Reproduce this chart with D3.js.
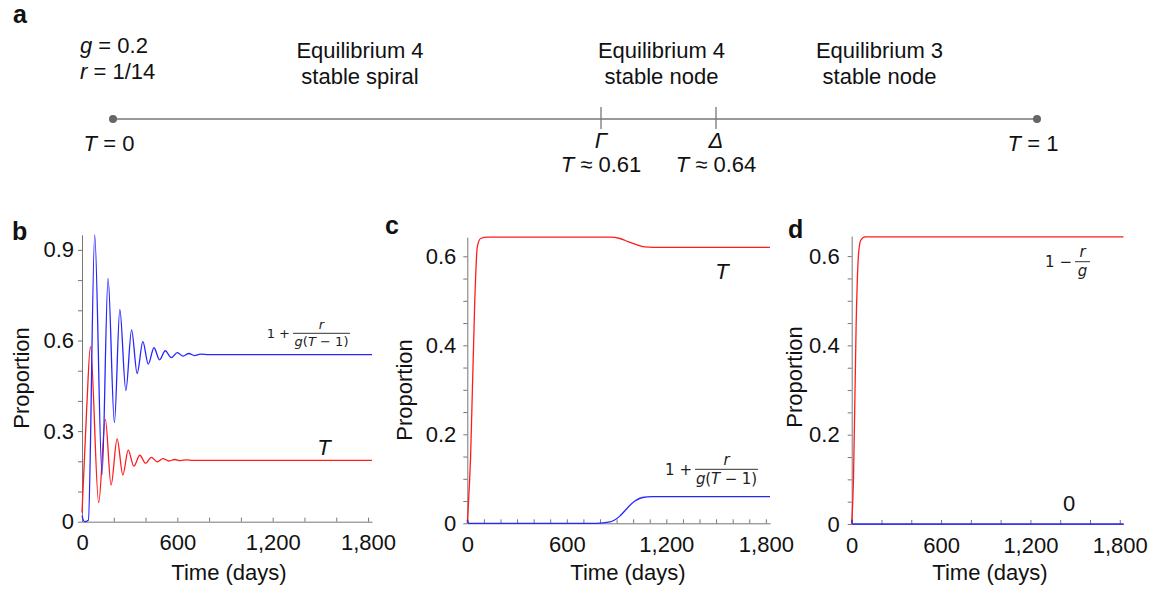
<!DOCTYPE html>
<html>
<head>
<meta charset="utf-8">
<script src="https://cdn.jsdelivr.net/npm/d3@7"></script>
<style>
  body { margin: 0; background: #fff; }
  text { font-family: "Liberation Sans", Arial, sans-serif; fill: #111; }
  .axis path, .axis line { stroke: #777; }
  .axis text { font-size: 22px; fill: #111; font-family: "Liberation Sans", Arial, sans-serif; }
  .frac text { font-family: "DejaVu Sans", sans-serif; fill: #222; }
</style>
</head>
<body>
<svg id="vis" width="1157" height="589"></svg>
<script>
// ---- panel a : bifurcation line ----
var paramLines = [["g", " = 0.2"], ["r", " = 1/14"]];
var thresholds = [
  { T: 0.61, sym: "\u0393", lab: "0.61" },
  { T: 0.64, sym: "\u0394", lab: "0.64" }
];
var regions = [
  { from: 0, to: 0.61, lines: ["Equilibrium 4", "stable spiral"] },
  { from: 0.61, to: 0.64, lines: ["Equilibrium 4", "stable node"] },
  { from: 0.64, to: 1, lines: ["Equilibrium 3", "stable node"] }
];

// ---- panel b : T = 0.2 (stable spiral) ----
var bRedDays = [0, 30, 53, 105, 147, 183, 221, 257, 291, 326, 364, 400, 436, 474, 509, 547, 583, 620, 655, 700, 800, 1825];
var bRedVals = [0.03, 0.38, 0.58, 0.063, 0.339, 0.121, 0.274, 0.155, 0.237, 0.184, 0.220, 0.193, 0.213, 0.198, 0.209, 0.201, 0.206, 0.202, 0.205, 0.203, 0.203, 0.203];
var bBlueDays = [0, 15, 40, 80, 126, 164, 204, 238, 276, 312, 347, 383, 417, 453, 488, 524, 562, 600, 636, 672, 708, 745, 800, 1825];
var bBlueVals = [0.02, 0.0, 0.005, 0.95, 0.155, 0.806, 0.328, 0.703, 0.434, 0.635, 0.491, 0.596, 0.522, 0.576, 0.536, 0.566, 0.543, 0.560, 0.548, 0.557, 0.550, 0.555, 0.553, 0.553];

// ---- panel c : stable node, equilibrium 4 ----
var cRedDays = [0, 20, 45, 60, 80, 120, 860, 920, 970, 1020, 1070, 1120, 1825];
var cRedVals = [0, 0.15, 0.5, 0.62, 0.64, 0.643, 0.643, 0.640, 0.633, 0.626, 0.621, 0.620, 0.620];
var cBlueDays = [0, 10, 780, 860, 916, 964, 1010, 1056, 1116, 1825];
var cBlueVals = [0.008, 0, 0, 0.003, 0.015, 0.034, 0.05, 0.058, 0.06, 0.06];

// ---- panel d : equilibrium 3 ----
var dRedDays = [0, 12, 30, 45, 60, 90, 1825];
var dRedVals = [0, 0.1, 0.45, 0.6, 0.635, 0.643, 0.643];
var dBlueDays = [0, 5, 1825];
var dBlueVals = [0.01, 0, 0];

var RED = "#ff1c1c", BLUE = "#2626ff";

var svg = d3.select("#vis");

// panel letters
[["a", 13, 23], ["b", 12, 240], ["c", 385, 234], ["d", 788, 238]].forEach(function (p) {
  svg.append("text").attr("x", p[1]).attr("y", p[2])
    .style("font-size", "25px").style("font-weight", "bold").text(p[0]);
});

// ---------- panel a ----------
var tx = d3.scaleLinear().domain([0, 0.61, 0.64, 1]).range([113, 601, 716, 1037]);
var lineY = 119;
var ga = svg.append("g");

ga.append("line").attr("x1", tx(0)).attr("x2", tx(1)).attr("y1", lineY).attr("y2", lineY)
  .attr("stroke", "#777").attr("stroke-width", 1.6);
ga.selectAll("circle.end").data([0, 1]).enter().append("circle")
  .attr("cx", function (d) { return tx(d); }).attr("cy", lineY).attr("r", 4).attr("fill", "#666");
ga.selectAll("line.thr").data(thresholds).enter().append("line")
  .attr("x1", function (d) { return tx(d.T); }).attr("x2", function (d) { return tx(d.T); })
  .attr("y1", lineY - 12).attr("y2", lineY + 10).attr("stroke", "#777").attr("stroke-width", 1.3);

paramLines.forEach(function (p, i) {
  var t = ga.append("text").attr("x", 80).attr("y", 53 + i * 26).style("font-size", "22px");
  t.append("tspan").style("font-style", "italic").text(p[0]);
  t.append("tspan").text(p[1]);
});

regions.forEach(function (r) {
  var cx = (tx(r.from) + tx(r.to)) / 2 + 3;
  r.lines.forEach(function (l, i) {
    ga.append("text").attr("x", cx).attr("y", 58 + i * 26).attr("text-anchor", "middle")
      .style("font-size", "22px").text(l);
  });
});

thresholds.forEach(function (d) {
  ga.append("text").attr("x", tx(d.T)).attr("y", 148).attr("text-anchor", "middle")
    .style("font-size", "22px").style("font-style", "italic").text(d.sym);
  var t = ga.append("text").attr("x", tx(d.T)).attr("y", 172).attr("text-anchor", "middle").style("font-size", "22px");
  t.append("tspan").style("font-style", "italic").text("T");
  t.append("tspan").text(" \u2248 " + d.lab);
});
[[0, "0", -4], [1, "1", -4]].forEach(function (e) {
  var t = ga.append("text").attr("x", tx(e[0]) + e[2]).attr("y", 151).attr("text-anchor", "middle").style("font-size", "22px");
  t.append("tspan").style("font-style", "italic").text("T");
  t.append("tspan").text(" = " + e[1]);
});

// ---------- time-course panels ----------
function zip(days, vals) { return days.map(function (d, i) { return [d, vals[i]]; }); }

// f: {x1, x2, y, size, sign, num, den, denW}
function fraction(g, f) {
  var fg = g.append("g").attr("class", "frac");
  var mid = (f.x1 + f.x2) / 2;
  fg.append("line").attr("x1", f.x1).attr("x2", f.x2).attr("y1", f.y).attr("y2", f.y)
    .attr("stroke", "#333").attr("stroke-width", 1);
  fg.append("text").attr("x", f.x1 - 3).attr("y", f.y + f.size * 0.36).attr("text-anchor", "end")
    .style("font-size", f.size + "px").text(f.sign);
  fg.append("text").attr("x", mid).attr("y", f.y - f.size * 0.3).attr("text-anchor", "middle")
    .style("font-size", f.size + "px").style("font-style", "italic").text(f.num);
  var dt = fg.append("text").attr("x", mid).attr("y", f.y + f.size * 0.98).attr("text-anchor", "middle")
    .style("font-size", f.size + "px");
  if (f.denW) dt.attr("textLength", f.denW).attr("lengthAdjust", "spacing");
  f.den.forEach(function (s) { dt.append("tspan").style("font-style", s[1] ? "italic" : "normal").text(s[0]); });
}

var panels = [
  { x0: 82, x1: 372, y0: 521.7, yTop: 0.95, yPx: 302, yTicks: d3.range(10).map(function (i) { return i / 10; }),
    yLab: [0, 0.3, 0.6, 0.9], xStep: 200, pad: 4, red: zip(bRedDays, bRedVals), blue: zip(bBlueDays, bBlueVals),
    propX: 29, propY: 378, timeX: 229 },
  { x0: 467.3, x1: 770, y0: 523.3, yTop: 0.643, yPx: 445, yTicks: d3.range(13).map(function (i) { return i / 20; }),
    yLab: [0, 0.2, 0.4, 0.6], xStep: 100, pad: 7, red: zip(cRedDays, cRedVals), blue: zip(cBlueDays, cBlueVals),
    propX: 412, propY: 390, timeX: 628 },
  { x0: 851.7, x1: 1123.5, y0: 524, yTop: 0.645, yPx: 446.5, yTicks: d3.range(13).map(function (i) { return i / 20; }),
    yLab: [0, 0.2, 0.4, 0.6], xStep: 200, pad: 8, red: zip(dRedDays, dRedVals), blue: zip(dBlueDays, dBlueVals),
    propX: 802, propY: 377, timeX: 990 }
];

var den = [["g", true], ["(", false], ["T", true], [" \u2212 ", false], ["1)", false]];

panels.forEach(function (p, k) {
  var x = d3.scaleLinear().domain([0, 1825]).range([p.x0, p.x1]);
  var y = d3.scaleLinear().domain([0, p.yTop]).range([p.y0, p.y0 - p.yTop * p.yPx]);
  var g = svg.append("g");

  g.append("g").attr("class", "axis").attr("transform", "translate(0," + p.y0 + ")")
    .call(d3.axisBottom(x).tickValues(d3.range(0, 1801, p.xStep)).tickSizeInner(-4).tickSizeOuter(0).tickPadding(13)
      .tickFormat(function (d) { return d % 600 === 0 ? d3.format(",")(d) : ""; }));
  g.append("g").attr("class", "axis").attr("transform", "translate(" + p.x0 + ",0)")
    .call(d3.axisLeft(y).tickValues(p.yTicks).tickSizeInner(4).tickSizeOuter(0).tickPadding(p.pad)
      .tickFormat(function (d) {
        var lab = p.yLab.some(function (v) { return Math.abs(v - d) < 1e-6; });
        return lab ? (d === 0 ? "0" : d3.format(".1f")(d)) : "";
      }));

  var line = d3.line().x(function (d) { return x(d[0]); }).y(function (d) { return y(d[1]); })
    .curve(d3.curveMonotoneX);
  g.append("path").datum(p.red).attr("d", line).attr("fill", "none").attr("stroke", RED).attr("stroke-width", 1.3);
  g.append("path").datum(p.blue).attr("d", line).attr("fill", "none").attr("stroke", BLUE).attr("stroke-width", 1.3);

  g.append("text").attr("transform", "translate(" + p.propX + "," + p.propY + ") rotate(-90)")
    .attr("text-anchor", "middle").style("font-size", "22px").text("Proportion");
  g.append("text").attr("x", p.timeX).attr("y", 580).attr("text-anchor", "middle")
    .style("font-size", "22px").text("Time (days)");

  if (k === 0) {
    fraction(g, { x1: 293, x2: 350, y: 333.3, size: 13, sign: "1 +", num: "r", den: den, denW: 54 });
    g.append("text").attr("x", 324).attr("y", 455).attr("text-anchor", "middle")
      .style("font-size", "22px").style("font-style", "italic").text("T");
  } else if (k === 1) {
    fraction(g, { x1: 695, x2: 758, y: 469.3, size: 15, sign: "1 +", num: "r", den: den, denW: 61 });
    g.append("text").attr("x", 722).attr("y", 279).attr("text-anchor", "middle")
      .style("font-size", "22px").style("font-style", "italic").text("T");
  } else {
    fraction(g, { x1: 1075, x2: 1090, y: 261.7, size: 15, sign: "1 \u2212", num: "r", den: [["g", true]] });
    g.append("text").attr("x", 1069).attr("y", 511).attr("text-anchor", "middle")
      .style("font-size", "22px").text("0");
  }
});
</script>
</body>
</html>
